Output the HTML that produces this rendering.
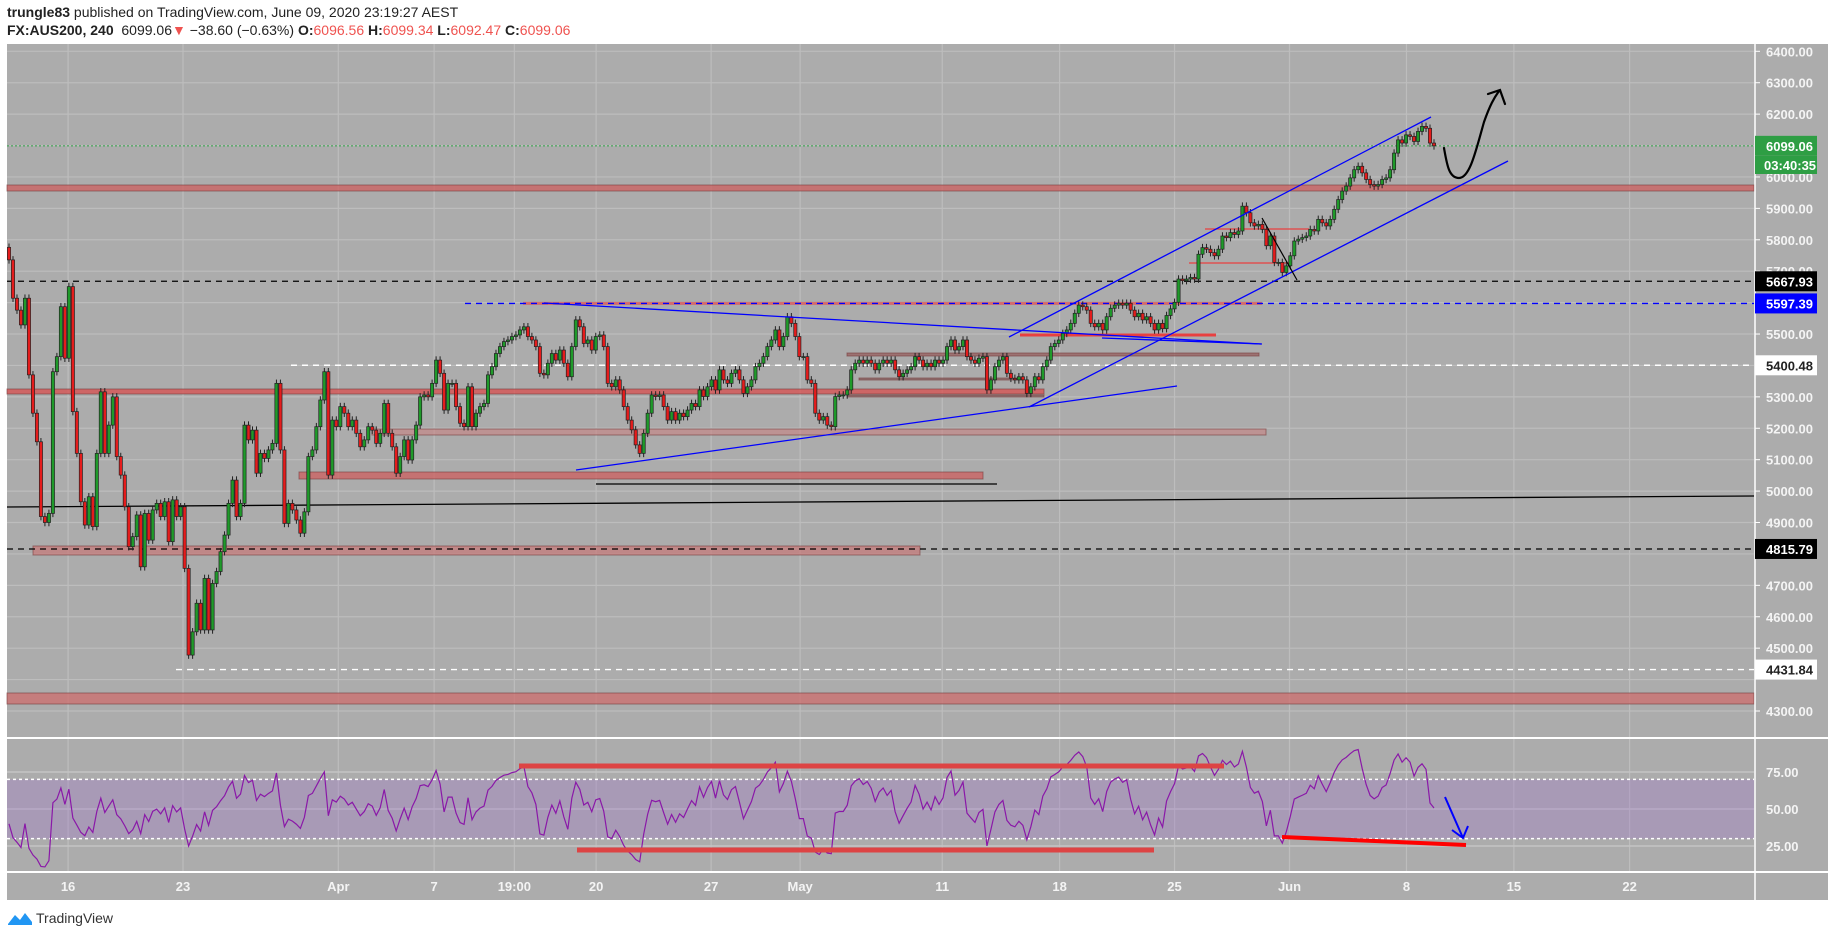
<!DOCTYPE html>
<html><head><meta charset="utf-8">
<style>
html,body{margin:0;padding:0;background:#fff;width:1828px;height:938px;overflow:hidden;font-family:"Liberation Sans",sans-serif;}
#hdr{position:absolute;left:7px;top:3px;font-size:14px;color:#222;line-height:18px;}
#hdr b{font-weight:bold}
.r{color:#ef5350}
#logo{position:absolute;left:7px;top:910px;font-size:14px;color:#333;display:flex;align-items:center;gap:3px}
</style></head><body>
<div id="hdr">
<div><b>trungle83</b> published on TradingView.com, June 09, 2020 23:19:27 AEST</div>
<div><b>FX:AUS200, 240</b>&nbsp; 6099.06<span class="r">▼</span> −38.60 (−0.63%) <b>O:</b><span class="r">6096.56</span> <b>H:</b><span class="r">6099.34</span> <b>L:</b><span class="r">6092.47</span> <b>C:</b><span class="r">6099.06</span></div>
</div>
<svg id="chart" width="1828" height="938" style="position:absolute;left:0;top:0" xmlns="http://www.w3.org/2000/svg"></svg>
<div id="logo"><svg width="26" height="16" viewBox="0 0 26 16"><path d="M1 14 L8 5 L13 10 L18 3 L25 12 L25 15 L1 15 Z" fill="#2196f3"/></svg><span>TradingView</span></div>
<script>
const closes=[5736,5614,5576,5529,5614,5370,5248,5157,4919,4900,4929,5380,5428,5587,5423,5651,5253,5120,4966,4892,4982,4887,5120,5316,5120,5210,5300,5110,5051,4950,4823,4855,4924,4759,4929,4844,4940,4961,4919,4966,4839,4972,4919,4950,4754,4478,4552,4643,4558,4722,4558,4706,4744,4807,4860,4961,5035,4919,4961,5210,5163,5194,5057,5120,5104,5131,5152,5343,5131,4897,4961,4940,4908,4866,4934,5110,5131,5205,5290,5380,5051,5226,5205,5269,5248,5205,5226,5184,5141,5163,5205,5194,5152,5184,5279,5184,5141,5057,5110,5163,5099,5163,5210,5300,5306,5300,5343,5417,5375,5258,5343,5343,5269,5216,5205,5332,5205,5248,5269,5279,5370,5396,5438,5460,5476,5481,5492,5497,5513,5523,5492,5481,5460,5375,5370,5407,5438,5417,5449,5407,5364,5460,5545,5523,5470,5481,5449,5492,5497,5460,5343,5332,
5354,5322,5269,5226,5195,5147,5120,5184,5248,5306,5301,5306,5269,5226,5253,5226,5248,5237,5258,5279,5269,5322,5301,5332,5354,5322,5386,5354,5343,5375,5386,5354,5311,5332,5354,5396,5407,5428,5460,5481,5513,5460,5492,5555,5534,5492,5428,5428,5354,5343,5248,5226,5237,5210,5205,5301,5306,5306,5322,5386,5407,5417,5407,5417,5407,5386,5407,5417,5407,5417,5386,5364,5375,5386,5396,5428,5417,5396,5407,5396,5417,5407,5417,5460,5481,5449,5460,5481,5428,5417,5407,5423,5428,5322,5354,5396,5417,5428,5375,5359,5354,5364,5354,5311,5332,5364,5354,5396,5417,5460,5470,5481,5502,5513,5534,5566,5592,5587,5576,5534,5523,5534,5513,5555,5582,5592,5598,5592,5598,5576,5555,5566,5545,5555,5534,5513,5534,
5517,5559,5580,5601,5675,5670,5675,5680,5675,5754,5775,5770,5759,5749,5770,5812,5807,5823,5817,5828,5907,5886,5854,5844,5849,5833,5781,5812,5728,5728,5696,5717,5749,5796,5802,5807,5812,5833,5828,5865,5854,5844,5865,5897,5928,5955,5971,5997,6023,6034,6013,5992,5976,5971,5976,5992,5997,6023,6076,6118,6108,6134,6129,6113,6145,6161,6155,6108,6099];
const priceTicks=[6400,6300,6200,6000,5900,5800,5700,5500,5300,5200,5100,5000,4900,4700,4600,4500,4300];
const gridPrices=[6400,6300,6200,6100,6000,5900,5800,5700,5600,5500,5400,5300,5200,5100,5000,4900,4800,4700,4600,4500,4400,4300];
const dateLabels=['16','23','Apr','7','19:00','20','27','May','11','18','25','Jun','8','15','22'];
const dateBars=[14.8,43.6,82.5,106.5,126.6,147.1,175.9,198.2,233.8,263.2,292,320.8,350.1,377,406];
const rsiTicks=[75,50,25];
const rsiPeriod=7;
const markers=[{p:6099.06,t:'6099.06',bg:'#2e9e44',fg:'#fff'},{p:5667.93,t:'5667.93',bg:'#000',fg:'#fff'},{p:5597.39,t:'5597.39',bg:'#0000ff',fg:'#fff'},{p:5400.48,t:'5400.48',bg:'#fff',fg:'#222'},{p:4815.79,t:'4815.79',bg:'#000',fg:'#fff'},{p:4431.84,t:'4431.84',bg:'#fff',fg:'#222'}];

const svg=document.getElementById('chart');
const NS='http://www.w3.org/2000/svg';
const L=7,R=1754,T=44,MB=738,RB=872,AB=900;
const X0=9,STEP=(1434-9)/(closes.length-1);
const xS=i=>X0+i*STEP;
const yP=p=>51.3+(6400-p)*0.31414;
const yR=v=>772+(75-v)*1.48;
function el(tag,attrs,parent){const e=document.createElementNS(NS,tag);for(const k in attrs)e.setAttribute(k,attrs[k]);(parent||svg).appendChild(e);return e;}

const bg=el('rect',{x:L,y:T,width:1828-L,height:AB-T,fill:'#acacac'});


gridPrices.forEach(p=>{const g=el('line',{x1:L,x2:R,y1:yP(p),y2:yP(p),stroke:'#bdbdbd','stroke-width':1.2});

});
dateBars.forEach(b=>{const x=xS(b);const g=el('line',{x1:x,x2:x,y1:T,y2:RB,stroke:'#bdbdbd','stroke-width':1.2});

});
rsiTicks.forEach(v=>{const g=el('line',{x1:L,x2:R,y1:yR(v),y2:yR(v),stroke:'#c4c4c4','stroke-width':1.5});

});

function zone(x1,x2,y1,y2,name,fill){const z=el('rect',{x:x1,y:y1,width:x2-x1,height:y2-y1,fill:fill||'rgba(205,95,95,0.75)',stroke:'rgba(120,60,60,0.6)','stroke-width':1});

}
zone(L,R,185,191,'resistance-zone-5970');
zone(L,1044,389,394,'support-zone-5300','rgba(215,85,85,0.8)');
zone(372,1266,429,435,'support-zone-5200','rgba(200,130,130,0.6)');
zone(299,983,472,479,'support-zone-5050');
zone(33,920,546,555,'support-zone-4815','rgba(200,120,120,0.7)');
zone(L,R,693,704,'support-zone-4350','rgba(205,110,110,0.75)');
zone(847,1259,353,356,'zone-5430','rgba(150,90,90,0.7)');
zone(859,1023,378,380,'zone-5320','rgba(130,90,90,0.7)');
zone(847,1044,395,397,'zone-5290','rgba(130,90,90,0.7)');

function line(x1,y1,x2,y2,stroke,w,dash,name){const l=el('line',{x1,y1,x2,y2,stroke,'stroke-width':w});if(dash)l.setAttribute('stroke-dasharray',dash);

return l;}
line(L,yP(6099.06),R,yP(6099.06),'#2e9e44',1,'2,2','last-price-line');
line(L,yP(5667.93),R,yP(5667.93),'#000',1.3,'6,5','level-5667');
line(523,yP(5597.39),1262,yP(5597.39),'rgba(220,90,90,0.8)',3,null,'level-5597-red');
line(465,yP(5597.39),R,yP(5597.39),'#0000ff',1.3,'6,5','level-5597');
line(291,yP(5400.48),R,yP(5400.48),'#fff',1.5,'6,5','level-5400');
line(L,yP(4815.79),R,yP(4815.79),'#000',1.3,'6,5','level-4815');
line(176,yP(4431.84),R,yP(4431.84),'#fff',1.3,'6,5','level-4431');
line(596,484,997,484,'#000',1.3,null,'line-5020');
line(L,507,R,496,'#000',1.3,null,'long-trendline');
line(1205,229,1309,229,'#e84040',1.3,null,'red-line-5860');
line(1189,263,1292,263,'#e84040',1.3,null,'red-line-5750');
line(1020,335,1216,335,'#e84040',3,null,'red-line-5510');

const cg=el('g',{});


closes.forEach((c,i)=>{const o=i?closes[i-1]:c+40;const up=c>=o;const hi=Math.max(o,c)+12,lo=Math.min(o,c)-12;const x=xS(i);
const w=el('line',{x1:x,x2:x,y1:yP(hi),y2:yP(lo),stroke:'#222','stroke-width':1},cg);


const y1=yP(Math.max(o,c)),y2=yP(Math.min(o,c));
const b=el('rect',{x:x-1.6,y:y1,width:3.2,height:Math.max(1,y2-y1),fill:up?'#1f9a2a':'#e51c1c',stroke:'#222','stroke-width':0.7},cg);

});

line(544,303,1261,344,'#0000ff',1.3,null,'triangle-top-line');
line(576,470,1177,386,'#0000ff',1.3,null,'rising-support-line');
line(1009,337,1431,117,'#0000ff',1.3,null,'channel-upper');
line(1029,407,1508,161,'#0000ff',1.3,null,'channel-lower');
line(1102,338,1262,344,'#0000ff',1.3,null,'flat-blue-line');
line(1262,218,1297,280,'#000',1.2,null,'black-diagonal');
const arr=el('path',{d:'M1444 148 C1447 165 1449 178 1459 178 C1470 178 1476 150 1484 122 C1490 105 1494 98 1499 91 M1488 94 L1500 90 L1505 104',fill:'none',stroke:'#000','stroke-width':2.2,'stroke-linecap':'round'});



const rb=el('rect',{x:L,y:yR(70),width:R-L,height:yR(30)-yR(70),fill:'rgba(160,120,200,0.35)'});


line(L,yR(70),R,yR(70),'#fff',1.5,'3,3','rsi-upper-70');
line(L,yR(30),R,yR(30),'#fff',1.5,'3,3','rsi-lower-30');
let ag=20,al=25;const rsi=[];
closes.forEach((c,i)=>{if(i===0){rsi.push(40);return;}const d=c-closes[i-1];const g=Math.max(d,0),l=Math.max(-d,0);
ag=(ag*(rsiPeriod-1)+g)/rsiPeriod;al=(al*(rsiPeriod-1)+l)/rsiPeriod;
rsi.push(al===0?100:100-100/(1+ag/al));});
const rp=el('polyline',{points:rsi.map((v,i)=>xS(i)+','+yR(v)).join(' '),fill:'none',stroke:'#8a18a8','stroke-width':1.2});


line(519,766,1224,766,'#dd4444',5,null,'rsi-resistance');
line(577,850,1154,850,'#dd4444',5,null,'rsi-support');
line(1282,837,1466,845,'#ff0000',4,null,'rsi-divergence');
const ba=el('path',{d:'M1445 797 L1463 838 M1452 830 L1463 838 L1468 826',fill:'none',stroke:'#0000ff','stroke-width':2});



line(L,MB,1828,MB,'#fff',2,null,'pane-separator');
line(L,RB,1828,RB,'#fff',2,null,'time-axis-separator');
line(R+1,T,R+1,AB,'#fff',1.5,null,'price-axis-border');

priceTicks.forEach(p=>{const y=yP(p);line(R+1,y,R+6,y,'#fff',1,null,'price-tick');
const t=el('text',{x:1766,y:y+5,fill:'#f4f4f4','font-size':13,'font-weight':'bold','font-family':'Liberation Sans, sans-serif'});t.textContent=p.toFixed(2);

});
markers.forEach(m=>{const y=yP(m.p);const r=el('rect',{x:R+1,y:y-10,width:62,height:20,fill:m.bg});


const t=el('text',{x:1766,y:y+5,fill:m.fg,'font-size':13,'font-weight':'bold','font-family':'Liberation Sans, sans-serif'});t.textContent=m.t;

});
const cd=el('rect',{x:R+1,y:156,width:62,height:18,fill:'#2e9e44'});


const ct=el('text',{x:1764,y:170,fill:'#fff','font-size':13,'font-weight':'bold','font-family':'Liberation Sans, sans-serif'});ct.textContent='03:40:35';


rsiTicks.forEach(v=>{const t=el('text',{x:1766,y:yR(v)+5,fill:'#f4f4f4','font-size':13,'font-weight':'bold','font-family':'Liberation Sans, sans-serif'});t.textContent=v.toFixed(2);

});
dateLabels.forEach((s,i)=>{const t=el('text',{x:xS(dateBars[i]),y:891,fill:'#f4f4f4','font-size':13,'font-weight':'bold','text-anchor':'middle','font-family':'Liberation Sans, sans-serif'});t.textContent=s;

});
</script>
</body></html>
